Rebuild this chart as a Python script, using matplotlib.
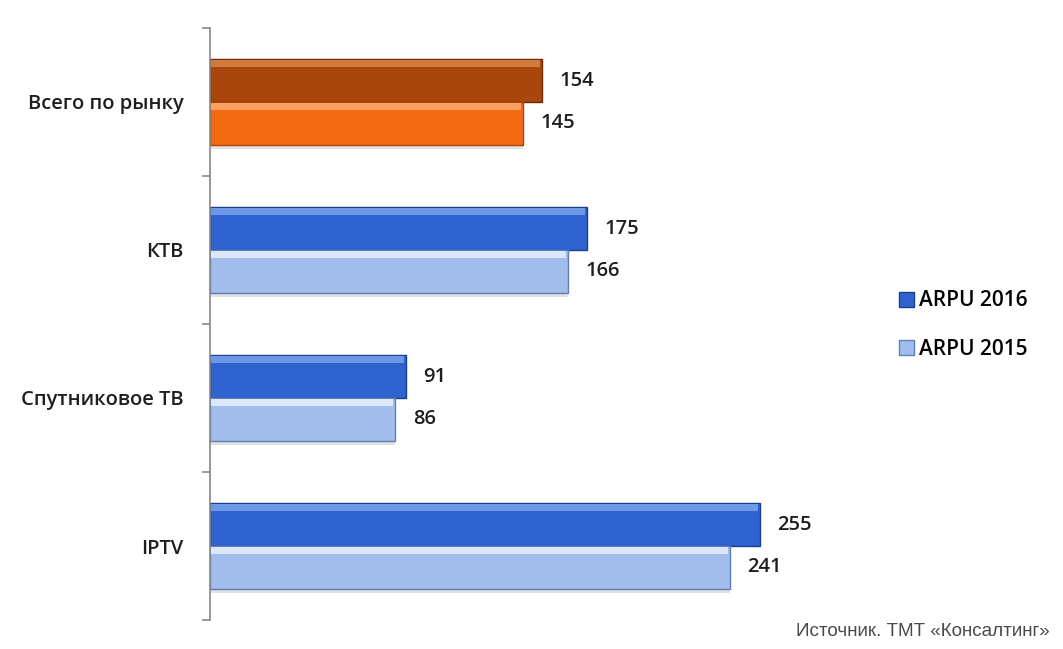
import numpy as np
import matplotlib.pyplot as plt
from matplotlib.patches import Patch

plt.rcParams['font.family'] = ['Open Sans', 'DejaVu Sans']

# data
categories = ['Всего по рынку', 'КТВ', 'Спутниковое ТВ', 'IPTV']
arpu_2016 = [154, 175, 91, 255]
arpu_2015 = [145, 166, 86, 241]
series_names = ['ARPU 2016', 'ARPU 2015']
source = 'Источник. ТМТ «Консалтинг»'

# colours: first group is orange, others blue
col_2016 = ['#A8460E', '#2F63D0', '#2F63D0', '#2F63D0']
col_2015 = ['#F46A12', '#A2BCEB', '#A2BCEB', '#A2BCEB']
edge_2016 = ['#6E2A05', '#1B3F8E', '#1B3F8E', '#1B3F8E']
edge_2015 = ['#A9470A', '#5F7FB8', '#5F7FB8', '#5F7FB8']
hi_2016 = ['#D07A3E', '#6E97E6', '#6E97E6', '#6E97E6']
hi_2015 = ['#FBA060', '#DCE7FA', '#DCE7FA', '#DCE7FA']

fs = 14.5
txt_col = '#1e1e1e'

fig = plt.figure(figsize=(10.63, 6.49), dpi=100)
ax = fig.add_axes([210 / 1063, 1 - 620 / 649, 647 / 1063, 592 / 649])

y = np.arange(len(categories))
h = 0.29

for i in range(len(categories)):
    # shadow
    ax.barh(y[i] + h / 2 + 0.025, arpu_2015[i], height=h, color='#cfcfcf', alpha=0.6, zorder=1)
    ax.barh(y[i] - h / 2, arpu_2016[i], height=h, color=col_2016[i],
            edgecolor=edge_2016[i], linewidth=1.0, zorder=2)
    ax.barh(y[i] + h / 2, arpu_2015[i], height=h, color=col_2015[i],
            edgecolor=edge_2015[i], linewidth=1.0, zorder=2)
    # top highlight strip
    ax.barh(y[i] - h + 0.03, arpu_2016[i] - 1.5, height=0.05, left=0.5,
            color=hi_2016[i], zorder=3, linewidth=0)
    ax.barh(y[i] + 0.03, arpu_2015[i] - 1.5, height=0.05, left=0.5,
            color=hi_2015[i], zorder=3, linewidth=0)
    ax.text(arpu_2016[i] + 8, y[i] - h / 2, str(arpu_2016[i]), va='center', ha='left',
            fontsize=fs, fontweight='semibold', color=txt_col)
    ax.text(arpu_2015[i] + 8, y[i] + h / 2, str(arpu_2015[i]), va='center', ha='left',
            fontsize=fs, fontweight='semibold', color=txt_col)

ax.set_xlim(0, 300)
ax.set_ylim(len(categories) - 0.5, -0.5)
ax.set_yticks(y)
ax.set_yticklabels(categories, fontsize=fs, fontweight='semibold', color=txt_col)
ax.set_yticks(np.arange(len(categories) + 1) - 0.5, minor=True)
ax.tick_params(axis='y', which='major', length=0, pad=19)
ax.tick_params(axis='y', which='minor', length=6, color='#888888', width=1.2)
ax.set_xticks([])
for s in ['top', 'right', 'bottom']:
    ax.spines[s].set_visible(False)
ax.spines['left'].set_color('#888888')
ax.spines['left'].set_linewidth(1.2)

handles = [Patch(facecolor='#2F63D0', edgecolor='#1B3F8E'),
           Patch(facecolor='#A2BCEB', edgecolor='#5F7FB8')]
fig.legend(handles, series_names, loc='center left', bbox_to_anchor=(880 / 1063, 1 - 325 / 649),
           frameon=False, handlelength=0.75, handleheight=0.75,
           handletextpad=0.2, labelspacing=1.3,
           prop={'size': 15, 'weight': 'semibold'})

fig.text(1050 / 1063, 1 - 631 / 649, source, ha='right', va='center',
         fontsize=13.6, color='#4a4a4a', family=['Liberation Sans', 'DejaVu Sans'])

fig.savefig('out.png', dpi=100, facecolor='white')
